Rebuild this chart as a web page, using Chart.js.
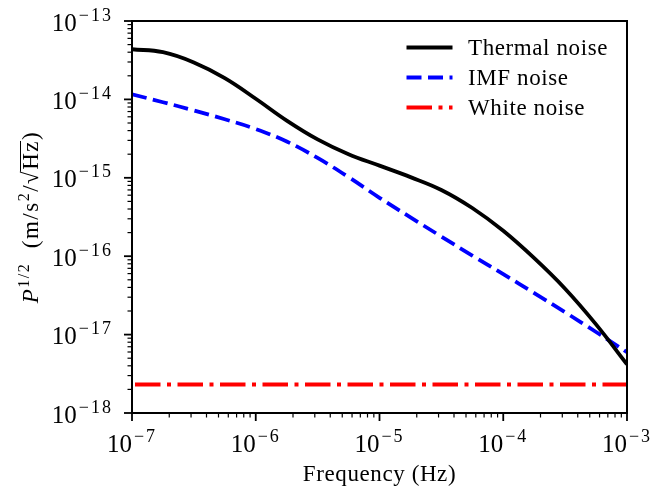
<!DOCTYPE html>
<html>
<head>
<meta charset="utf-8">
<script src="https://cdn.jsdelivr.net/npm/chart.js@4.4.1/dist/chart.umd.min.js"></script>
<style>
    html, body { margin: 0; padding: 0; background: #fff; }
    #chartCanvas { display: block; }
</style>
</head>
<body>
<canvas id="chartCanvas" width="670" height="488"></canvas>
<script>
const frequencies = [1e-7, 1.78e-7, 3.16e-7, 5.62e-7, 1e-6, 1.78e-6, 3.16e-6, 5.62e-6,
    1e-5, 1.78e-5, 3.16e-5, 5.62e-5, 1e-4, 1.78e-4, 3.16e-4, 5.62e-4, 1e-3];
const thermalNoise = [4.36e-14, 4.0e-14, 2.96e-14, 1.87e-14, 1.02e-14, 5.37e-15, 3.09e-15, 2.0e-15,
    1.43e-15, 1.02e-15, 7.0e-16, 4.12e-16, 2.11e-16, 9.44e-17, 3.85e-17, 1.35e-17, 4.17e-18];
const imfNoise = [1.16e-14, 9.2e-15, 7.23e-15, 5.58e-15, 4.19e-15, 2.9e-15, 1.79e-15, 1.02e-15,
    5.56e-16, 3.13e-16, 1.78e-16, 1.02e-16, 5.9e-17, 3.39e-17, 1.93e-17, 1.08e-17, 5.96e-18];
const whiteFreqs = [1e-7, 1e-3];
const whiteNoise = [2.31e-18, 2.31e-18];
const seriesLabels = ['Thermal noise', 'IMF noise', 'White noise'];
const xDecades = [-7, -6, -5, -4, -3];
const yDecades = [-18, -17, -16, -15, -14, -13];
const xTitle = 'Frequency (Hz)';

const serif = '"Liberation Serif", "DejaVu Serif", serif';

function toPoints(xs, ys) {
    return xs.map((x, i) => ({ x: x, y: ys[i] }));
}

// draw 10^exp as "10" with a raised exponent
function drawPower(ctx, exp, x, y, anchor) {
    const base = '10';
    const sup = '\u2212' + Math.abs(exp);
    ctx.letterSpacing = '0px';
    ctx.font = '25px ' + serif;
    const wb = ctx.measureText(base).width;
    ctx.letterSpacing = '2px';
    ctx.font = '18px ' + serif;
    const ws = ctx.measureText(sup).width;
    const total = wb + 2 + ws;
    const left = anchor === 'right' ? x - total : x - total / 2;
    ctx.textAlign = 'left';
    ctx.textBaseline = 'alphabetic';
    ctx.letterSpacing = '0px';
    ctx.font = '25px ' + serif;
    ctx.fillText(base, left, y);
    ctx.letterSpacing = '2px';
    ctx.font = '18px ' + serif;
    ctx.fillText(sup, left + wb + 2, y - 10);
    ctx.letterSpacing = '0px';
}

const axesFrame = {
    id: 'axesFrame',
    afterDatasetsDraw(chart) {
        const ctx = chart.ctx;
        const area = chart.chartArea;
        const xs = chart.scales.x;
        const ys = chart.scales.y;
        ctx.save();
        ctx.strokeStyle = '#000';
        ctx.fillStyle = '#000';
        ctx.setLineDash([]);

        // x ticks (below the bottom spine)
        xDecades.forEach(e => {
            for (let m = 1; m <= 9; m++) {
                if (e === xDecades[xDecades.length - 1] && m > 1) break;
                const px = xs.getPixelForValue(m * Math.pow(10, e));
                const major = m === 1;
                ctx.lineWidth = major ? 1.8 : 1.2;
                ctx.beginPath();
                ctx.moveTo(px, area.bottom);
                ctx.lineTo(px, area.bottom + (major ? 8 : 4.5));
                ctx.stroke();
            }
        });
        // y ticks (left of the left spine)
        yDecades.forEach(e => {
            for (let m = 1; m <= 9; m++) {
                if (e === yDecades[yDecades.length - 1] && m > 1) break;
                const py = ys.getPixelForValue(m * Math.pow(10, e));
                const major = m === 1;
                ctx.lineWidth = major ? 1.8 : 1.2;
                ctx.beginPath();
                ctx.moveTo(area.left, py);
                ctx.lineTo(area.left - (major ? 8 : 4.5), py);
                ctx.stroke();
            }
        });

        // frame
        ctx.lineWidth = 2;
        ctx.strokeRect(area.left, area.top, area.right - area.left, area.bottom - area.top);

        // tick labels
        xDecades.forEach(e => {
            drawPower(ctx, e, xs.getPixelForValue(Math.pow(10, e)), area.bottom + 38.5, 'center');
        });
        yDecades.forEach(e => {
            drawPower(ctx, e, area.left - 19, ys.getPixelForValue(Math.pow(10, e)) + 9.5, 'right');
        });

        // x title
        ctx.font = '23px ' + serif;
        ctx.letterSpacing = '0.6px';
        ctx.textAlign = 'center';
        ctx.textBaseline = 'alphabetic';
        ctx.fillText(xTitle, (area.left + area.right) / 2, 481);

        // y title: P^{1/2} (m/s^2/sqrt(Hz))
        const pieces = [
            { t: 'P', f: 'italic 23px ' + serif, dy: 0 },
            { t: '1/2', f: '16px ' + serif, dy: -9 },
            { t: '  (m/s', f: '23px ' + serif, dy: 0 },
            { t: '2', f: '16px ' + serif, dy: -9 },
            { t: '/', f: '23px ' + serif, dy: 0 },
            { t: '\u221A', f: '23px ' + serif, dy: 0 },
            { t: 'Hz', f: '23px ' + serif, dy: 0, over: true },
            { t: ')', f: '23px ' + serif, dy: 0 }
        ];
        ctx.letterSpacing = '1.5px';
        let total = 0;
        pieces.forEach(p => {
            ctx.font = p.f;
            p.w = ctx.measureText(p.t).width;
            total += p.w;
        });
        ctx.translate(38, (area.top + area.bottom) / 2);
        ctx.rotate(-Math.PI / 2);
        ctx.textAlign = 'left';
        let cx = -total / 2;
        pieces.forEach(p => {
            ctx.font = p.f;
            ctx.fillText(p.t, cx, p.dy);
            if (p.over) {
                ctx.lineWidth = 1;
                ctx.beginPath();
                ctx.moveTo(cx - 2, -17.5);
                ctx.lineTo(cx + p.w - 1, -17.5);
                ctx.stroke();
            }
            cx += p.w;
        });
        ctx.restore();
    }
};

// legend drawn inside the upper right of the plot
const innerLegend = {
    id: 'innerLegend',
    afterDatasetsDraw(chart) {
        const ctx = chart.ctx;
        ctx.save();
        chart.data.datasets.forEach((ds, i) => {
            const y = 47.5 + 30 * i;
            ctx.strokeStyle = ds.borderColor;
            ctx.lineWidth = ds.borderWidth;
            ctx.lineCap = 'butt';
            ctx.setLineDash(ds.borderDash || []);
            ctx.beginPath();
            ctx.moveTo(406.5, y);
            ctx.lineTo(452.5, y);
            ctx.stroke();
            ctx.setLineDash([]);
            ctx.fillStyle = '#000';
            ctx.font = '23px ' + serif;
            ctx.letterSpacing = '0.6px';
            ctx.textAlign = 'left';
            ctx.textBaseline = 'alphabetic';
            ctx.fillText(ds.label, 468, y + 7.5);
        });
        ctx.restore();
    }
};

const canvas = document.getElementById('chartCanvas');
new Chart(canvas.getContext('2d'), {
    type: 'line',
    data: {
        datasets: [
            {
                label: seriesLabels[0],
                data: toPoints(frequencies, thermalNoise),
                borderColor: '#000000',
                borderWidth: 3.8,
                pointRadius: 0,
                tension: 0.4,
                fill: false
            },
            {
                label: seriesLabels[1],
                data: toPoints(frequencies, imfNoise),
                borderColor: '#0000ff',
                borderWidth: 3.8,
                borderDash: [15, 6.5],
                pointRadius: 0,
                tension: 0.4,
                fill: false
            },
            {
                label: seriesLabels[2],
                data: toPoints(whiteFreqs, whiteNoise),
                borderColor: '#ff0000',
                borderWidth: 3.8,
                borderDash: [25.5, 6.5, 4, 6.5],
                borderDashOffset: 39.5,
                pointRadius: 0,
                fill: false
            }
        ]
    },
    options: {
        responsive: false,
        animation: false,
        devicePixelRatio: 1,
        layout: { padding: { left: 132, top: 21, right: 43, bottom: 75 } },
        scales: {
            x: { type: 'logarithmic', min: 1e-7, max: 1e-3, display: false },
            y: { type: 'logarithmic', min: 1e-18, max: 1e-13, display: false }
        },
        plugins: {
            legend: { display: false },
            tooltip: { enabled: false }
        }
    },
    plugins: [axesFrame, innerLegend]
});
</script>
</body>
</html>
